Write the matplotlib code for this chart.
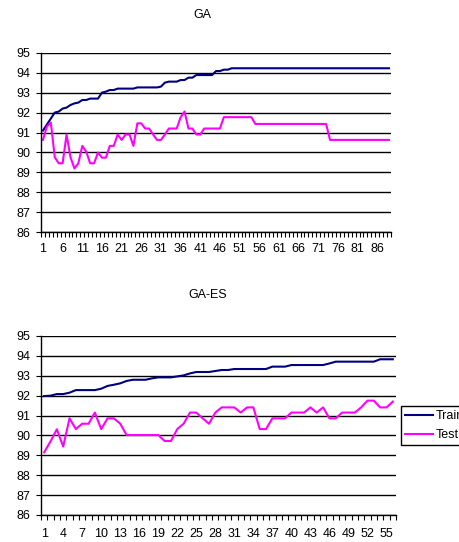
import numpy as np
import matplotlib
matplotlib.use('Agg')
import matplotlib.pyplot as plt

plt.rcParams['font.family'] = ['Liberation Sans', 'DejaVu Sans']
plt.rcParams['font.size'] = 9

# GA run (89 generations)
ga_train = [91.1, 91.4, 91.7, 92.0, 92.05, 92.2, 92.25, 92.38, 92.46, 92.5,
            92.63, 92.63, 92.7, 92.7, 92.7, 93.0, 93.05, 93.13, 93.13, 93.2,
            93.2, 93.2, 93.2, 93.2, 93.26, 93.26, 93.26, 93.26, 93.26, 93.26,
            93.3, 93.5, 93.55, 93.55, 93.55, 93.63, 93.63, 93.75, 93.75, 93.88,
            93.88, 93.88, 93.88, 93.88, 94.08, 94.08, 94.15, 94.15] + [94.22] * 41
ga_test = [90.63, 91.3, 91.5, 89.76, 89.46, 89.46, 90.9, 89.76, 89.2, 89.46,
           90.33, 90.04, 89.46, 89.46, 90.0, 89.74, 89.74, 90.33, 90.33, 90.9,
           90.63, 90.9, 90.9, 90.33, 91.46, 91.46, 91.2, 91.2, 90.9, 90.63,
           90.63, 90.9, 91.2, 91.2, 91.2, 91.76, 92.05, 91.2, 91.2, 90.9,
           90.9, 91.2, 91.2, 91.2, 91.2, 91.2] + [91.77] * 8 + [91.43] * 19 + [90.63] * 16

# GA-ES run (56 generations)
gaes_train = [91.98, 92.0, 92.08, 92.08, 92.15, 92.28, 92.28, 92.28, 92.28, 92.35,
              92.49, 92.55, 92.62, 92.74, 92.8, 92.8, 92.8, 92.87, 92.92, 92.92,
              92.92, 92.97, 93.02, 93.12, 93.19, 93.19, 93.19, 93.24, 93.29, 93.29,
              93.34, 93.34, 93.34, 93.34, 93.34, 93.34, 93.46, 93.46, 93.46, 93.54,
              93.54, 93.54, 93.54, 93.54, 93.54, 93.62, 93.71, 93.71, 93.71, 93.71,
              93.71, 93.71, 93.71, 93.83, 93.83, 93.83]
gaes_test = [89.15, 89.7, 90.31, 89.44, 90.86, 90.32, 90.59, 90.59, 91.15, 90.32,
             90.86, 90.86, 90.59, 90.02, 90.02, 90.02, 90.02, 90.02, 90.02, 89.72,
             89.72, 90.32, 90.59, 91.15, 91.15, 90.86, 90.59, 91.15, 91.41, 91.41,
             91.41, 91.15, 91.41, 91.41, 90.32, 90.32, 90.86, 90.86, 90.86, 91.15,
             91.15, 91.15, 91.41, 91.15, 91.41, 90.86, 90.86, 91.15, 91.15, 91.15,
             91.41, 91.75, 91.75, 91.41, 91.41, 91.7]

W, H = 460, 542
fig = plt.figure(figsize=(W / 100, H / 100), dpi=100)


def panel(rect, title, train, test, step, title_xy, xpad):
    l, t, r, b = rect
    ax = fig.add_axes([l / W, 1 - b / H, (r - l) / W, (b - t) / H])
    n = len(train)
    x = np.arange(1, n + 1)
    ax.plot(x, train, color='#000080', lw=1.5, label='Train')
    ax.plot(x, test, color='#FF00FF', lw=1.5, label='Test')
    ax.set_xlim(0.5, n + 0.5)
    ax.set_ylim(86, 95)
    ax.set_yticks(range(86, 96))
    ax.yaxis.grid(True, color='black', lw=1)
    ax.set_axisbelow(True)
    ax.set_xticks(x[::step])
    ax.set_xticks(np.arange(0.5, n + 1), minor=True)
    ax.tick_params(axis='x', which='major', length=0, pad=xpad)
    ax.tick_params(axis='x', which='minor', length=3.5, width=0.8, direction='out')
    ax.tick_params(axis='y', length=3.5, width=0.8, pad=4)
    for s in ('top', 'right'):
        ax.spines[s].set_visible(False)
    for s in ('left', 'bottom'):
        ax.spines[s].set_linewidth(1)
    fig.text(title_xy[0] / W, 1 - title_xy[1] / H, title, ha='center', va='center')
    return ax


panel((41, 52.7, 391, 232.3), 'GA', ga_train, ga_test, 5, (202.5, 15), 8)
ax2 = panel((41, 336, 396, 515), 'GA-ES', gaes_train, gaes_test, 3, (207.8, 295), 9.5)

leg = ax2.legend(loc='upper left', bbox_to_anchor=(401 / W, 1 - 405.7 / H),
                 bbox_transform=fig.transFigure, fancybox=False, framealpha=1,
                 edgecolor='black', handlelength=2.2, handletextpad=0.2,
                 labelspacing=0.55, borderpad=0.35, borderaxespad=0)
leg.get_frame().set_linewidth(1)

fig.savefig('out.png', dpi=100)
